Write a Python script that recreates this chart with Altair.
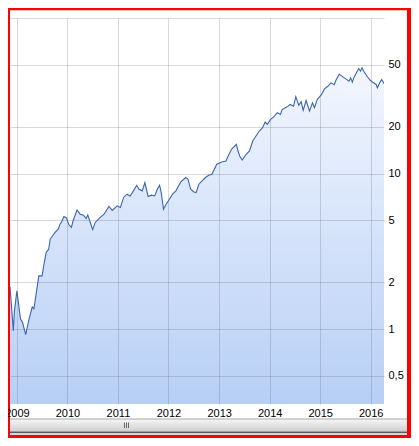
import altair as alt
import pandas as pd

# ---- data (decimal year, price) ----
year_frac = [
    2008.864, 2008.930, 2008.950, 2009.000, 2009.072, 2009.110, 2009.174, 2009.240, 2009.304, 2009.337,
    2009.434, 2009.498, 2009.531, 2009.581, 2009.628, 2009.659, 2009.711, 2009.756, 2009.822, 2009.853,
    2009.886, 2009.930, 2009.983, 2010.027, 2010.079, 2010.112, 2010.190, 2010.254, 2010.318, 2010.370,
    2010.403, 2010.448, 2010.500, 2010.550, 2010.628, 2010.725, 2010.822, 2010.888, 2010.984, 2011.048,
    2011.112, 2011.178, 2011.242, 2011.306, 2011.372, 2011.417, 2011.481, 2011.533, 2011.597, 2011.663,
    2011.727, 2011.779, 2011.824, 2011.857, 2011.901, 2011.953, 2012.017, 2012.081, 2012.147, 2012.192,
    2012.244, 2012.341, 2012.386, 2012.438, 2012.502, 2012.547, 2012.599, 2012.663, 2012.729, 2012.793,
    2012.857, 2012.953, 2013.050, 2013.136, 2013.180, 2013.244, 2013.341, 2013.374, 2013.407, 2013.457,
    2013.535, 2013.601, 2013.665, 2013.729, 2013.795, 2013.859, 2013.911, 2013.955, 2014.019, 2014.085,
    2014.149, 2014.213, 2014.246, 2014.310, 2014.362, 2014.407, 2014.473, 2014.517, 2014.576, 2014.624,
    2014.663, 2014.721, 2014.789, 2014.847, 2014.886, 2014.944, 2015.021, 2015.085, 2015.151, 2015.215,
    2015.279, 2015.312, 2015.376, 2015.442, 2015.506, 2015.570, 2015.603, 2015.636, 2015.667, 2015.733,
    2015.764, 2015.797, 2015.829, 2015.860, 2015.926, 2015.990, 2016.054, 2016.107, 2016.132, 2016.184,
    2016.217, 2016.262,
]
price = [
    1.87, 0.975, 1.29, 1.76, 1.16, 1.11, 0.92, 1.16, 1.39, 1.35,
    2.20, 2.20, 2.56, 3.12, 3.25, 3.79, 4.00, 4.19, 4.40, 4.73,
    4.90, 5.30, 5.18, 4.70, 4.51, 4.97, 5.82, 5.48, 5.40, 5.15,
    5.42, 4.90, 4.36, 4.85, 5.15, 5.48, 6.14, 5.80, 6.20, 6.05,
    7.02, 7.37, 7.18, 7.74, 8.41, 7.93, 7.74, 8.75, 7.12, 7.26,
    7.18, 7.93, 8.41, 7.55, 5.90, 6.35, 6.84, 7.37, 7.74, 8.25,
    8.83, 9.43, 9.19, 7.93, 7.62, 7.55, 8.54, 8.97, 9.43, 9.75,
    9.90, 11.47, 11.87, 12.05, 12.97, 14.32, 15.42, 13.96, 12.97, 12.23,
    13.30, 13.96, 16.18, 17.42, 18.76, 19.72, 21.43, 20.70, 22.28, 23.19,
    24.60, 23.99, 25.80, 26.50, 27.13, 27.80, 27.13, 31.20, 27.50, 29.00,
    25.50, 29.50, 25.20, 28.50, 26.50, 30.00, 32.00, 35.00, 36.40, 38.30,
    37.30, 39.80, 43.50, 42.00, 40.60, 39.20, 41.20, 38.70, 41.50, 45.50,
    47.30, 45.50, 47.80, 45.50, 42.20, 39.80, 38.30, 37.40, 35.60, 38.70,
    40.20, 37.80,
]
assert len(year_frac) == len(price)

y_ticks = [0.5, 1, 2, 5, 10, 20, 50, 100]
x_tick_years = [2009, 2010, 2011, 2012, 2013, 2014, 2015, 2016]
x_domain = [2008.864, 2016.262]
y_domain = [0.33, 100]


def to_ms(t):
    y = int(t)
    a = pd.Timestamp(year=y, month=1, day=1, tz="UTC")
    b = pd.Timestamp(year=y + 1, month=1, day=1, tz="UTC")
    return int((a + (b - a) * (t - y)).value // 10**6)


df = pd.DataFrame({"date": [to_ms(t) for t in year_frac], "price": price})

W, H = 374, 386

x_enc = alt.X(
    "date:T",
    scale=alt.Scale(type="utc", domain=[to_ms(v) for v in x_domain], nice=False),
    axis=alt.Axis(
        values=[to_ms(v) for v in x_tick_years],
        labelExpr="utcFormat(datum.value, '%Y')",
        title=None, ticks=False, domain=False, labelPadding=3,
        labelFont="Liberation Sans", labelFontSize=11, labelColor="#000000",
        gridColor="rgba(100,100,125,0.26)", zindex=1, labelFlush=False,
    ),
)
y_enc = alt.Y(
    "price:Q",
    scale=alt.Scale(type="log", domain=y_domain, nice=False),
    axis=alt.Axis(
        orient="right", values=y_ticks,
        labelExpr="datum.value == 100 ? '' : replace('' + datum.value, '.', ',')",
        title=None, ticks=False, domain=False, labelPadding=4,
        labelFont="Liberation Sans", labelFontSize=11, labelColor="#000000",
        gridColor="rgba(100,100,125,0.26)", zindex=1, labelFlush=False,
    ),
)

base = alt.Chart(df)

area = base.mark_area(
    clip=True,
    fill=alt.Gradient(
        gradient="linear",
        stops=[alt.GradientStop(color="#f3f7fe", offset=0),
               alt.GradientStop(color="#b7cff5", offset=1)],
        x1=1, x2=1, y1=0, y2=1,
    ),
).encode(x=x_enc, y=y_enc, y2=alt.Y2Datum(y_domain[0]))

line = base.mark_line(clip=True, color="#3b66ae", strokeWidth=1.1).encode(x="date:T", y="price:Q")

one = pd.DataFrame({"k": [0]})


def deco(x, x2, y, y2, fill):
    return alt.Chart(one).mark_rect(fill=fill).encode(
        x=alt.value(x), x2=alt.value(x2), y=alt.value(y), y2=alt.value(y2)
    )


scroll = alt.Chart(one).mark_rect(
    fill=alt.Gradient(
        gradient="linear",
        stops=[alt.GradientStop(color="#f7f7f7", offset=0),
               alt.GradientStop(color="#cfcfcf", offset=1)],
        x1=1, x2=1, y1=0, y2=1,
    )
).encode(x=alt.value(0), x2=alt.value(397), y=alt.value(401), y2=alt.value(413.5))

decor = [
    scroll,
    deco(0, 397, 400.5, 401.5, "#a8a8a8"),
    deco(0, 397, 413.5, 415, "#5a5a5a"),
    deco(0, 397, 415, 417, "#d6d6d6"),
    deco(114, 115, 404.5, 410, "#666666"),
    deco(116, 117, 404.5, 410, "#666666"),
    deco(118, 119, 404.5, 410, "#666666"),
    deco(-2, 401, -10, -7.7, "#ff0000"),
    deco(-2, 0, -10, 420, "#ff0000"),
    deco(397, 401, -10, 420, "#ff0000"),
    deco(-2, 401, 417, 420, "#ff0000"),
]

chart = alt.layer(area, line, *decor).properties(
    width=W, height=H,
    autosize="none",
    padding={"left": 2, "top": 10, "right": 27, "bottom": 34},
    background="#ffffff",
).configure_view(stroke=None)

chart.save("out.html", embed_options={"renderer": "svg", "actions": False})
